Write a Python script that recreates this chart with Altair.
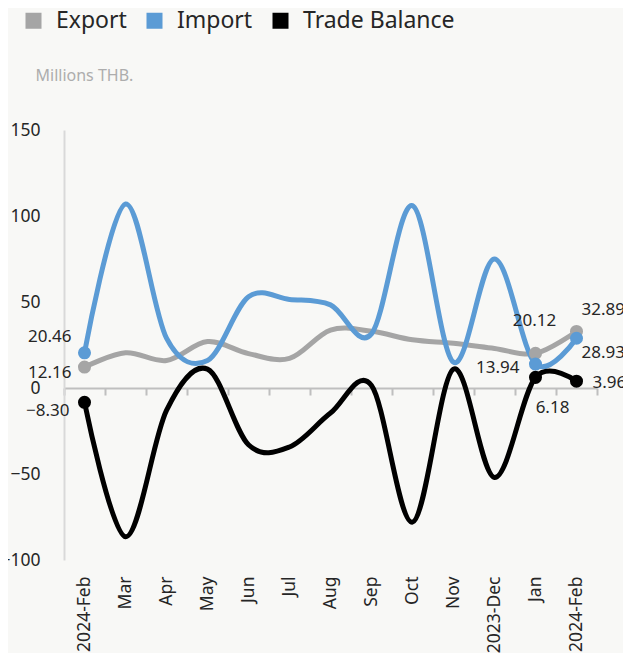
import altair as alt
import pandas as pd

FONT = "Noto Sans"

months = ["2024-Feb", "Mar", "Apr", "May", "Jun", "Jul", "Aug", "Sep",
          "Oct", "Nov", "2023-Dec", "Jan", "2024-Feb"]
export_vals = [12.16, 20.5, 16.0, 27.0, 20.0, 17.2, 33.7, 33.0, 28.0, 26.0, 23.0, 20.12, 32.89]
import_vals = [20.46, 107.0, 29.0, 16.0, 53.0, 51.5, 48.3, 31.5, 106.0, 15.0, 75.0, 13.94, 28.93]
balance_vals = [-8.30, -86.5, -13.0, 11.0, -33.0, -34.3, -14.6, 1.5, -78.0, 11.0, -52.0, 6.18, 3.96]
series_names = ["Export", "Import", "Trade Balance"]
series_colors = ["#a5a5a5", "#5b9bd5", "#000000"]
marked_idx = [0, 11, 12]
y_ticks = [-100, -50, 0, 50, 100, 150]

rows = []
for name, vals in zip(series_names, [export_vals, import_vals, balance_vals]):
    for i, v in enumerate(vals):
        rows.append({"idx": i, "series": name, "value": v})
df = pd.DataFrame(rows)

label_expr = "[" + ",".join("'" + m + "'" for m in months) + "][datum.value]"

x_scale = alt.Scale(type="band", paddingInner=0, paddingOuter=0, domain=list(range(len(months))))
y_scale = alt.Scale(domain=[-100, 150], nice=False, zero=False)
color_scale = alt.Scale(domain=series_names, range=series_colors)

y_axis = alt.Axis(values=y_ticks, domain=True, domainColor="#d9d9d9", domainWidth=2,
                  ticks=False, grid=False, labelPadding=24, labelFontSize=17.5,
                  labelColor="#262626", labelFont=FONT,
                  title="Millions THB.", titleAngle=0, titleX=-29, titleY=-55,
                  titleAlign="left", titleBaseline="middle", titleFontSize=16,
                  titleFontWeight="normal", titleColor="#adadad", titleFont=FONT)
y_enc = alt.Y("value:Q", scale=y_scale, axis=y_axis)

label_axis = alt.Axis(orient="bottom", labelAngle=-90, domain=False, ticks=False,
                      labelPadding=16, labelFontSize=17.5, labelColor="#262626",
                      labelFont=FONT, labelExpr=label_expr, title=None, grid=False)
zero_axis = alt.Axis(orient="bottom", offset=-172, labels=False, domain=True,
                     domainColor="#bfbfbf", domainWidth=2, ticks=True,
                     tickColor="#bfbfbf", tickWidth=2, tickSize=7,
                     tickBand="extent", title=None, grid=False)

base = alt.Chart(df)

line_layers = []
for k, (name, col) in enumerate(zip(series_names, series_colors)):
    ln = base.mark_line(strokeWidth=5, interpolate="cardinal", color=col).encode(
        x=alt.X("idx:O", scale=x_scale, axis=label_axis if k == 0 else None),
        y=y_enc,
    ).transform_filter(alt.FieldEqualPredicate(field="series", equal=name))
    line_layers.append(ln)

points = base.mark_circle(size=170, opacity=1).encode(
    x=alt.X("idx:O", scale=x_scale, axis=zero_axis),
    y=y_enc,
    color=alt.Color("series:N", scale=color_scale,
                    legend=alt.Legend(orient="none", legendX=-42, legendY=-121,
                                      direction="horizontal", title=None,
                                      symbolType="square", symbolSize=256,
                                      symbolStrokeWidth=0,
                                      labelFontSize=23, labelColor="#262626",
                                      labelFont=FONT, labelOffset=11,
                                      columnPadding=16)),
).transform_filter(
    alt.FieldOneOfPredicate(field="idx", oneOf=marked_idx)
)

label_specs = [
    ("Import", 0, "right", -13, -16),
    ("Export", 0, "right", -13, 6),
    ("Trade Balance", 0, "right", -15, 9),
    ("Export", 11, "center", -1, -32),
    ("Import", 11, "right", -16, 4),
    ("Trade Balance", 11, "center", 17, 31),
    ("Export", 12, "left", 5, -21),
    ("Import", 12, "left", 5, 15),
    ("Trade Balance", 12, "left", 16, 2),
]

texts = []
for s, i, al, dx, dy in label_specs:
    t = base.mark_text(align=al, baseline="middle", dx=dx, dy=dy, fontSize=17,
                       font=FONT, color="#262626").encode(
        x=alt.X("idx:O", scale=x_scale, axis=None),
        y=y_enc,
        text=alt.Text("value:Q", format=".2f"),
    ).transform_filter(f"datum.series == '{s}' && datum.idx == {i}")
    texts.append(t)

chart = alt.layer(*line_layers, points, *texts).resolve_axis(x="independent").properties(
    width=533,
    height=430,
    autosize=alt.AutoSizeParams(type="none"),
    padding={"left": 56, "top": 122, "right": 26, "bottom": 93},
    background="#f8f8f6",
).configure_view(stroke=None)

chart.save("out.html", embed_options={"renderer": "svg", "actions": False})
